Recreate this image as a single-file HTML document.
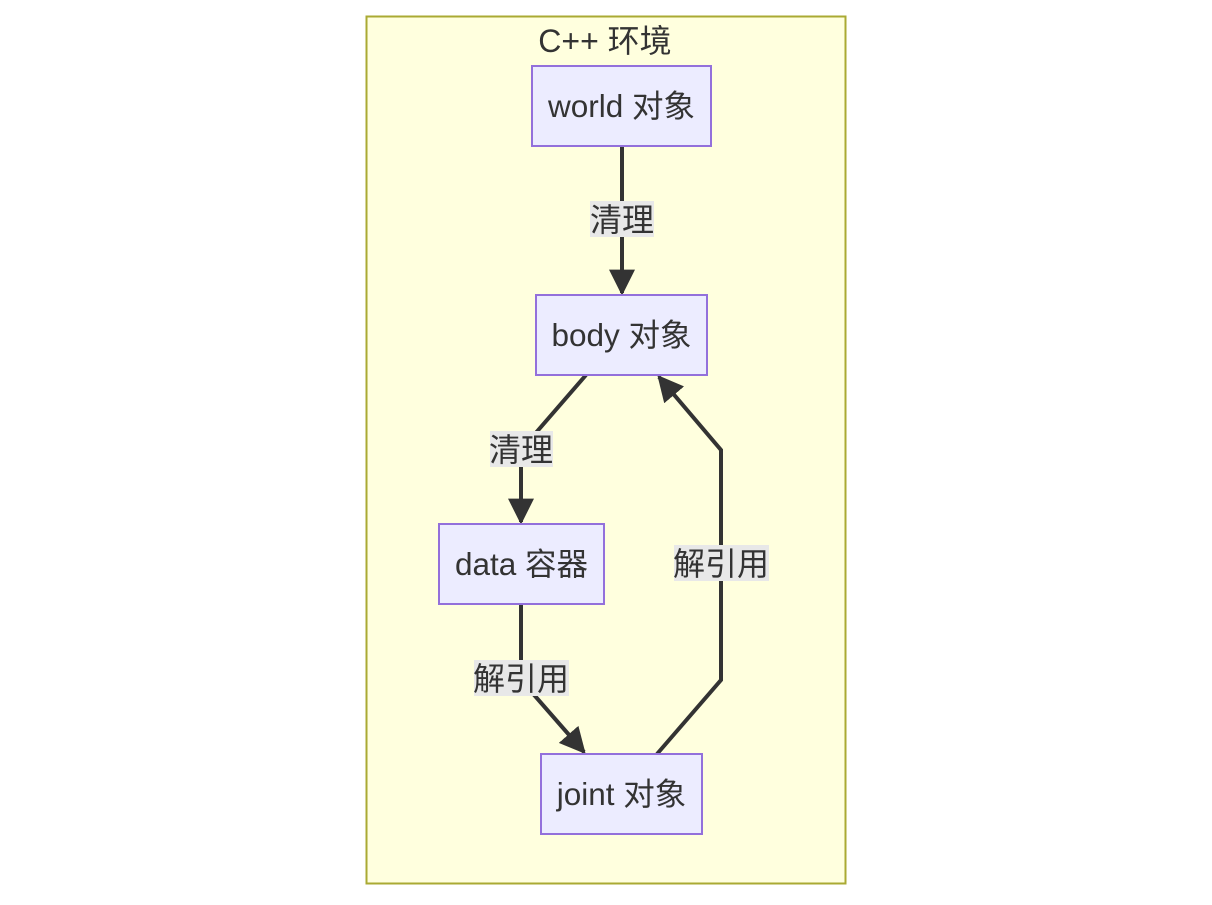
<!DOCTYPE html>
<html><head><meta charset="utf-8"><style>
html,body{margin:0;padding:0;background:#fff;}
svg text{font-family:"Liberation Sans","Noto Sans CJK SC",sans-serif;fill:#333;}
</style></head><body>
<svg width="1212" height="900" viewBox="0 0 1212 900" xmlns="http://www.w3.org/2000/svg">
<defs>
<marker id="a" viewBox="0 0 10 10" refX="9" refY="5" markerWidth="6.5" markerHeight="6.5" markerUnits="strokeWidth" orient="auto">
<path d="M0,0 L10,5 L0,10 z" fill="#333"/></marker>
</defs>
<rect x="366.5" y="16.5" width="479" height="867" fill="#ffffde" stroke="#aaaa33" stroke-width="2"/>
<text x="605" y="52" font-size="32" text-anchor="middle">C++ 环境</text>

<g fill="none" stroke="#333" stroke-width="4">
<path d="M622,146 L622,293" marker-end="url(#a)"/>
<path d="M586,375 L521,450 L521,522" marker-end="url(#a)"/>
<path d="M521,604 L521,680 L584,752" marker-end="url(#a)"/>
<path d="M657,754 L721,680 L721,450 L659,377" marker-end="url(#a)"/>
</g>

<g font-size="32" text-anchor="middle">
<rect x="590" y="201" width="64" height="36" fill="#e8e8e8"/>
<text x="622" y="231">清理</text>
<rect x="490" y="431" width="63" height="36" fill="#e8e8e8"/>
<text x="521" y="461">清理</text>
<rect x="474" y="660" width="95" height="36" fill="#e8e8e8"/>
<text x="521" y="690">解引用</text>
<rect x="674" y="545" width="95" height="36" fill="#e8e8e8"/>
<text x="721" y="575">解引用</text>
</g>

<g fill="#ececff" stroke="#9370db" stroke-width="2">
<rect x="532" y="66" width="179" height="80"/>
<rect x="536" y="295" width="171" height="80"/>
<rect x="439" y="524" width="165" height="80"/>
<rect x="541" y="754" width="161" height="80"/>
</g>
<g font-size="31.5" text-anchor="middle">
<text x="621.5" y="117">world 对象</text>
<text x="621.5" y="346">body 对象</text>
<text x="521.5" y="575">data 容器</text>
<text x="621.5" y="805">joint 对象</text>
</g>
</svg>
</body></html>
